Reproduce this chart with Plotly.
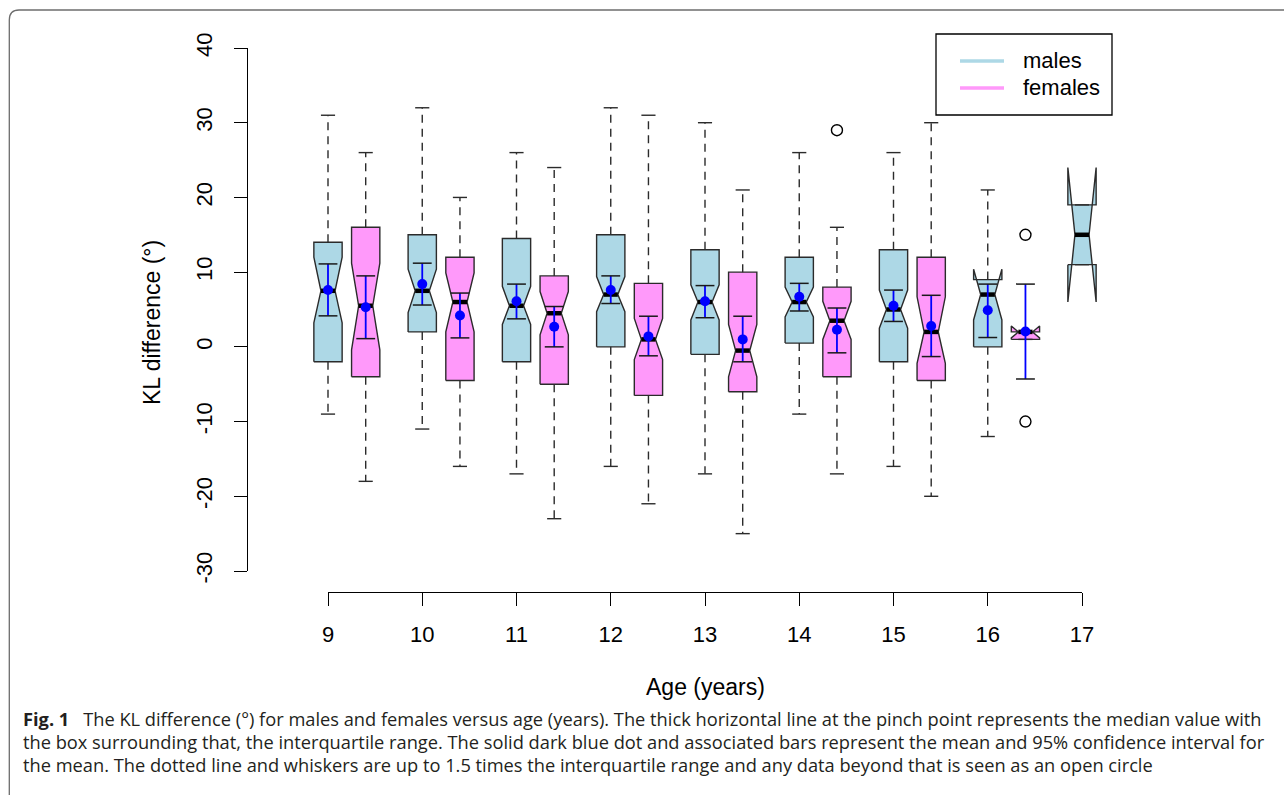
import plotly.graph_objects as go

# ---------------- data ----------------
ages = [9, 10, 11, 12, 13, 14, 15, 16, 17]
m_wlo = [-9, -11, -17, -16, -17, -9, -16, -12, 11]
m_q1 = [-2, 2, -2, 0, -1, 0.5, -2, 0, 11]
m_med = [7.5, 7.5, 5.5, 7, 6, 6, 5, 7, 15]
m_q3 = [14, 15, 14.5, 15, 13, 12, 13, 9, 19]
m_whi = [31, 32, 26, 32, 30, 26, 26, 21, 19]
m_nlo = [3.2, 4.6, 3.0, 4.7, 3.6, 4.0, 2.5, 3.6, 6]
m_nhi = [12.0, 10.4, 8.1, 9.4, 8.3, 8.0, 7.6, 10.4, 24]
m_mean = [7.6, 8.4, 6.1, 7.6, 6.1, 6.7, 5.5, 4.9, None]
m_cilo = [4.15, 5.6, 3.75, 5.8, 3.9, 4.8, 3.4, 1.25, None]
m_cihi = [11.1, 11.2, 8.4, 9.5, 8.2, 8.5, 7.6, 8.4, None]
m_out = [[], [], [], [], [], [], [], [], []]

f_ages = [9, 10, 11, 12, 13, 14, 15, 16]
f_wlo = [-18, -16, -23, -21, -25, -17, -20, 1]
f_q1 = [-4, -4.5, -5, -6.5, -6, -4, -4.5, 1]
f_med = [5.5, 6, 4.5, 1, -0.5, 3.5, 2, 2]
f_q3 = [16, 12, 9.5, 8.5, 10, 8, 12, 2]
f_whi = [26, 20, 24, 31, 21, 16, 30, 2]
f_nlo = [-0.4, 2.0, 1.6, -1.7, -4.0, 1.0, -2.2, 1.2]
f_nhi = [11.2, 9.9, 7.4, 3.8, 3.0, 6.1, 6.7, 2.8]
f_mean = [5.3, 4.2, 2.7, 1.4, 1.0, 2.3, 2.8, 2.05]
f_cilo = [1.1, 1.2, 0.0, -1.2, -2.0, -0.8, -1.3, -4.3]
f_cihi = [9.5, 7.2, 5.4, 4.1, 4.1, 5.2, 6.9, 8.4]
f_out = [[], [], [], [], [], [29], [], [15, -10]]

x_ticks = [9, 10, 11, 12, 13, 14, 15, 16, 17]
y_ticks = [-30, -20, -10, 0, 10, 20, 30, 40]
y_ticktext = ["-30", "-20", "-10", "0", "10", "20", "30", "40"]
series_names = ["males", "females"]
female_offset = 0.4

# ---------------- styling ----------------
W, H = 1284, 795
MALE_COL = "#ADD8E6"
FEMALE_COL = "#FF99FA"
BOX_LINE = "#2b2b2b"
HALF = 0.15        # half box width
NOTCH_FRAC = 0.5
STAPLE = 0.075
CAP = 0.1
FONT = "Liberation Sans, Arial, sans-serif"


def px_x(p):
    return p / W


def px_y(p):
    return 1 - p / H


# main data axes: pixel anchors
PX_L, PX_R = 200, 1150
PX_T, PX_B = 20, 620
x_scale = (1082 - 328) / 8.0
y_scale = (571 - 48) / 70.0
x_range = [9 - (328 - PX_L) / x_scale, 17 + (PX_R - 1082) / x_scale]
y_range = [-30 - (PX_B - 571) / y_scale, 40 + (48 - PX_T) / y_scale]

fig = go.Figure()


def add_group(xc_list, wlo, q1, med, q3, whi, nlo, nhi, mean, cilo, cihi, outs, col):
    # boxes (notched polygons)
    for c, a, b, m, d, lo, hi in zip(xc_list, wlo, q1, med, q3, nlo, nhi):
        xs = [c - HALF, c + HALF, c + HALF, c + HALF * NOTCH_FRAC, c + HALF,
              c + HALF, c - HALF, c - HALF, c - HALF * NOTCH_FRAC, c - HALF, c - HALF]
        ys = [b, b, lo, m, hi, d, d, hi, m, lo, b]
        fig.add_trace(go.Scatter(x=xs, y=ys, mode="lines", fill="toself",
                                 fillcolor=col, line=dict(color=BOX_LINE, width=1.4),
                                 hoverinfo="skip", showlegend=False))
    # whiskers (dashed)
    wx, wy = [], []
    for c, a, b, d, e in zip(xc_list, wlo, q1, q3, whi):
        wx += [c, c, None, c, c, None]
        wy += [d, e, None, b, a, None]
    fig.add_trace(go.Scatter(x=wx, y=wy, mode="lines",
                             line=dict(color=BOX_LINE, width=1.4, dash="8px,6px"),
                             hoverinfo="skip", showlegend=False))
    # staples
    sx, sy = [], []
    for c, a, e in zip(xc_list, wlo, whi):
        sx += [c - STAPLE, c + STAPLE, None, c - STAPLE, c + STAPLE, None]
        sy += [e, e, None, a, a, None]
    fig.add_trace(go.Scatter(x=sx, y=sy, mode="lines",
                             line=dict(color=BOX_LINE, width=1.4),
                             hoverinfo="skip", showlegend=False))
    # medians
    mx, my = [], []
    for c, m in zip(xc_list, med):
        mx += [c - HALF * NOTCH_FRAC, c + HALF * NOTCH_FRAC, None]
        my += [m, m, None]
    fig.add_trace(go.Scatter(x=mx, y=my, mode="lines",
                             line=dict(color="black", width=4.5),
                             hoverinfo="skip", showlegend=False))
    # outliers
    ox, oy = [], []
    for c, o in zip(xc_list, outs):
        for v in o:
            ox.append(c)
            oy.append(v)
    if ox:
        fig.add_trace(go.Scatter(x=ox, y=oy, mode="markers",
                                 marker=dict(symbol="circle-open", size=11,
                                             color="black", line=dict(width=1.4)),
                                 hoverinfo="skip", showlegend=False))
    # mean + CI
    cx, cy, kx, ky, px_, py_ = [], [], [], [], [], []
    for c, mn, lo, hi in zip(xc_list, mean, cilo, cihi):
        if mn is None:
            continue
        cx += [c, c, None]
        cy += [lo, hi, None]
        kx += [c - CAP, c + CAP, None, c - CAP, c + CAP, None]
        ky += [lo, lo, None, hi, hi, None]
        px_.append(c)
        py_.append(mn)
    fig.add_trace(go.Scatter(x=cx, y=cy, mode="lines",
                             line=dict(color="#0000FF", width=1.8),
                             hoverinfo="skip", showlegend=False))
    fig.add_trace(go.Scatter(x=kx, y=ky, mode="lines",
                             line=dict(color="#1a1a1a", width=1.5),
                             hoverinfo="skip", showlegend=False))
    fig.add_trace(go.Scatter(x=px_, y=py_, mode="markers",
                             marker=dict(color="#0000FF", size=10),
                             hoverinfo="skip", showlegend=False))


add_group(ages, m_wlo, m_q1, m_med, m_q3, m_whi, m_nlo, m_nhi,
          m_mean, m_cilo, m_cihi, m_out, MALE_COL)
add_group([a + female_offset for a in f_ages], f_wlo, f_q1, f_med, f_q3, f_whi,
          f_nlo, f_nhi, f_mean, f_cilo, f_cihi, f_out, FEMALE_COL)

# dummy trace so the R-style axes are drawn
fig.add_trace(go.Scatter(x=[None], y=[None], xaxis="x2", yaxis="y2",
                         showlegend=False, hoverinfo="skip"))

fig.update_layout(
    width=W, height=H,
    autosize=False,
    margin=dict(l=0, r=0, t=0, b=0, pad=0, autoexpand=False),
    paper_bgcolor="white",
    plot_bgcolor="rgba(0,0,0,0)",
    showlegend=False,
    xaxis=dict(domain=[px_x(PX_L), px_x(PX_R)], range=x_range, visible=False,
               automargin=False),
    yaxis=dict(domain=[px_y(PX_B), px_y(PX_T)], range=y_range, visible=False,
               automargin=False),
    xaxis2=dict(domain=[px_x(328), px_x(1082)], range=[9, 17], anchor="free",
                position=px_y(592), showline=True, linecolor="black", linewidth=1.3,
                ticks="outside", ticklen=13, tickwidth=1.3, tickcolor="black",
                tickvals=x_ticks, ticktext=[str(v) for v in x_ticks],
                tickfont=dict(family=FONT, size=22, color="black"),
                ticklabelstandoff=9, showgrid=False, zeroline=False, automargin=False),
    yaxis2=dict(domain=[px_y(571), px_y(48)], range=[-30, 40], anchor="free",
                position=px_x(246.7), showline=True, linecolor="black", linewidth=1.3,
                ticks="outside", ticklen=13, tickwidth=1.3, tickcolor="black",
                tickvals=y_ticks, ticktext=y_ticktext, tickangle=-90,
                tickfont=dict(family=FONT, size=22, color="black"),
                ticklabelstandoff=13, showgrid=False, zeroline=False, automargin=False),
)

annotations = [
    dict(text="KL difference (°)", x=px_x(152), y=px_y(323), xref="paper", yref="paper",
         showarrow=False, textangle=-90, xanchor="center", yanchor="middle",
         font=dict(family=FONT, size=23, color="black")),
    dict(text="Age (years)", x=px_x(705), y=px_y(687), xref="paper", yref="paper",
         showarrow=False, xanchor="center", yanchor="middle",
         font=dict(family=FONT, size=23, color="black")),
    dict(text=series_names[0], x=px_x(1021), y=px_y(61), xref="paper", yref="paper",
         showarrow=False, xanchor="left", yanchor="middle",
         font=dict(family=FONT, size=22, color="black")),
    dict(text=series_names[1], x=px_x(1021), y=px_y(88), xref="paper", yref="paper",
         showarrow=False, xanchor="left", yanchor="middle",
         font=dict(family=FONT, size=22, color="black")),
]

CAP_FONT = "Open Sans, Noto Sans, sans-serif"
caption_lines = [
    "<b>Fig. 1</b>\u2002 The KL difference (°) for males and females versus age (years). The thick horizontal line at the pinch point represents the median value with",
    "the box surrounding that, the interquartile range. The solid dark blue dot and associated bars represent the mean and 95% confidence interval for",
    "the mean. The dotted line and whiskers are up to 1.5 times the interquartile range and any data beyond that is seen as an open circle",
]
for i, line in enumerate(caption_lines):
    annotations.append(dict(text=line, x=px_x(21), y=px_y(718 + 23 * i), xref="paper",
                            yref="paper", showarrow=False, xanchor="left", yanchor="middle",
                            font=dict(family=CAP_FONT, size=18.25, color="#231f20")))
fig.update_layout(annotations=annotations)

shapes = [
    # legend box and keys
    dict(type="rect", xref="paper", yref="paper", x0=px_x(936), x1=px_x(1112),
         y0=px_y(115), y1=px_y(34), line=dict(color="black", width=1.3), fillcolor="white"),
    dict(type="line", xref="paper", yref="paper", x0=px_x(960), x1=px_x(1004),
         y0=px_y(61), y1=px_y(61), line=dict(color=MALE_COL, width=3.5)),
    dict(type="line", xref="paper", yref="paper", x0=px_x(960), x1=px_x(1004),
         y0=px_y(88), y1=px_y(88), line=dict(color=FEMALE_COL, width=3.5)),
    # figure frame (rounded top-left corner)
    dict(type="path", xref="paper", yref="paper",
         path=f"M {px_x(1284)} {px_y(10)} L {px_x(19)} {px_y(10)} "
              f"Q {px_x(9.3)} {px_y(10)} {px_x(9.3)} {px_y(20)} L {px_x(9.3)} {px_y(795)}",
         line=dict(color="#6d6d6d", width=1.3)),
]
fig.update_layout(shapes=shapes)

fig.write_html("out.html",
               config={"displayModeBar": False},
               post_script="document.body.style.margin='0px';"
                           "document.body.style.overflow='hidden';")
